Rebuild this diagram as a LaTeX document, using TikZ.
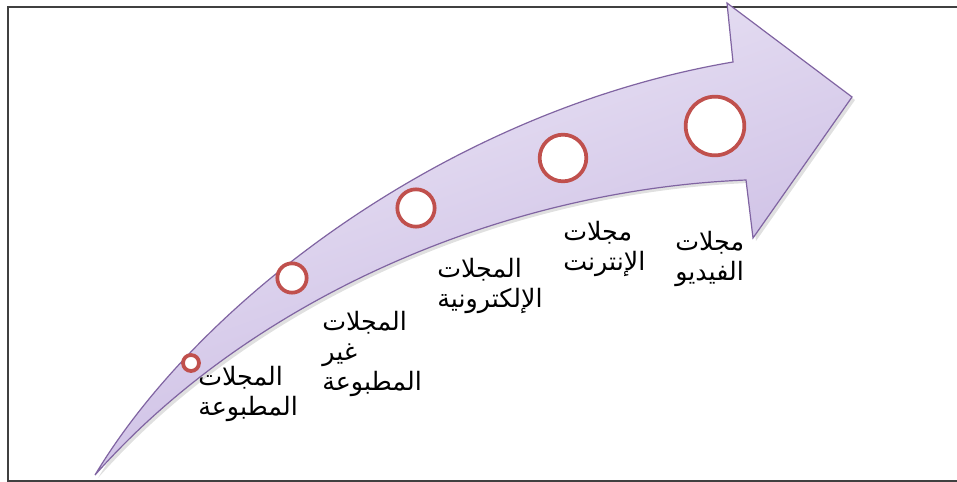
\documentclass[tikz,border=0pt]{standalone}
\usepackage{fontspec}
\newfontfamily\arabicfont[Script=Arabic]{DejaVu Sans}
\TeXXeTstate=1
\definecolor{arrowline}{HTML}{8064A2}
\definecolor{arrowtop}{HTML}{EEE9F7}
\definecolor{arrowbot}{HTML}{C3B2DF}
\definecolor{ringred}{HTML}{C0504D}
\definecolor{framegray}{HTML}{404040}
\tikzset{
  ring/.style={circle, draw=ringred, line width=2.8pt, fill=white, inner sep=0pt},
  lbl/.style={anchor=north west, inner sep=0pt, align=left,
    font=\arabicfont\fontsize{19}{22.5}\selectfont, text=black}
}
\begin{document}
\begin{tikzpicture}[x=0.75pt, y=-0.75pt]
\useasboundingbox (0,0) rectangle (957,482);
\clip (0,0) rectangle (957,482);
\fill[white] (0,0) rectangle (957,482);
\draw[framegray, line width=1.6pt] (8,7) rectangle (990,481);
% shadow
\fill[black, opacity=0.12] (98,478) .. controls (203,303) and (453,113) .. (736,65) -- (730,6) -- (855,100) -- (756,241) -- (749,183) .. controls (503,193) and (253,303) .. (98,478) -- cycle;
% arrow
\path[draw=arrowline, line width=0.9pt, top color=arrowtop, bottom color=arrowbot, shading angle=20]
  (95,475) .. controls (200,300) and (450,110) .. (733,62) -- (727,3) -- (852,97) -- (753,238) -- (746,180) .. controls (500,190) and (250,300) .. (95,475) -- cycle;
% rings
\node[ring, minimum size=12pt] (c1) at (191,363) {};
\node[ring, minimum size=22pt] (c2) at (292,278) {};
\node[ring, minimum size=28pt] (c3) at (416,208) {};
\node[ring, minimum size=35pt] (c4) at (563,158) {};
\node[ring, minimum size=44pt] (c5) at (715,126) {};
% labels
\node[lbl] (t1) at (198,366) {\beginR المجلات\endR\\\beginR المطبوعة\endR};
\node[lbl] (t2) at (322,311) {\beginR المجلات\endR\\\beginR غير\endR\\\beginR المطبوعة\endR};
\node[lbl] (t3) at (437,258) {\beginR المجلات\endR\\\beginR الإلكترونية\endR};
\node[lbl] (t4) at (563,221) {\beginR مجلات\endR\\\beginR الإنترنت\endR};
\node[lbl] (t5) at (675,231) {\beginR مجلات\endR\\\beginR الفيديو\endR};
\end{tikzpicture}
\end{document}
